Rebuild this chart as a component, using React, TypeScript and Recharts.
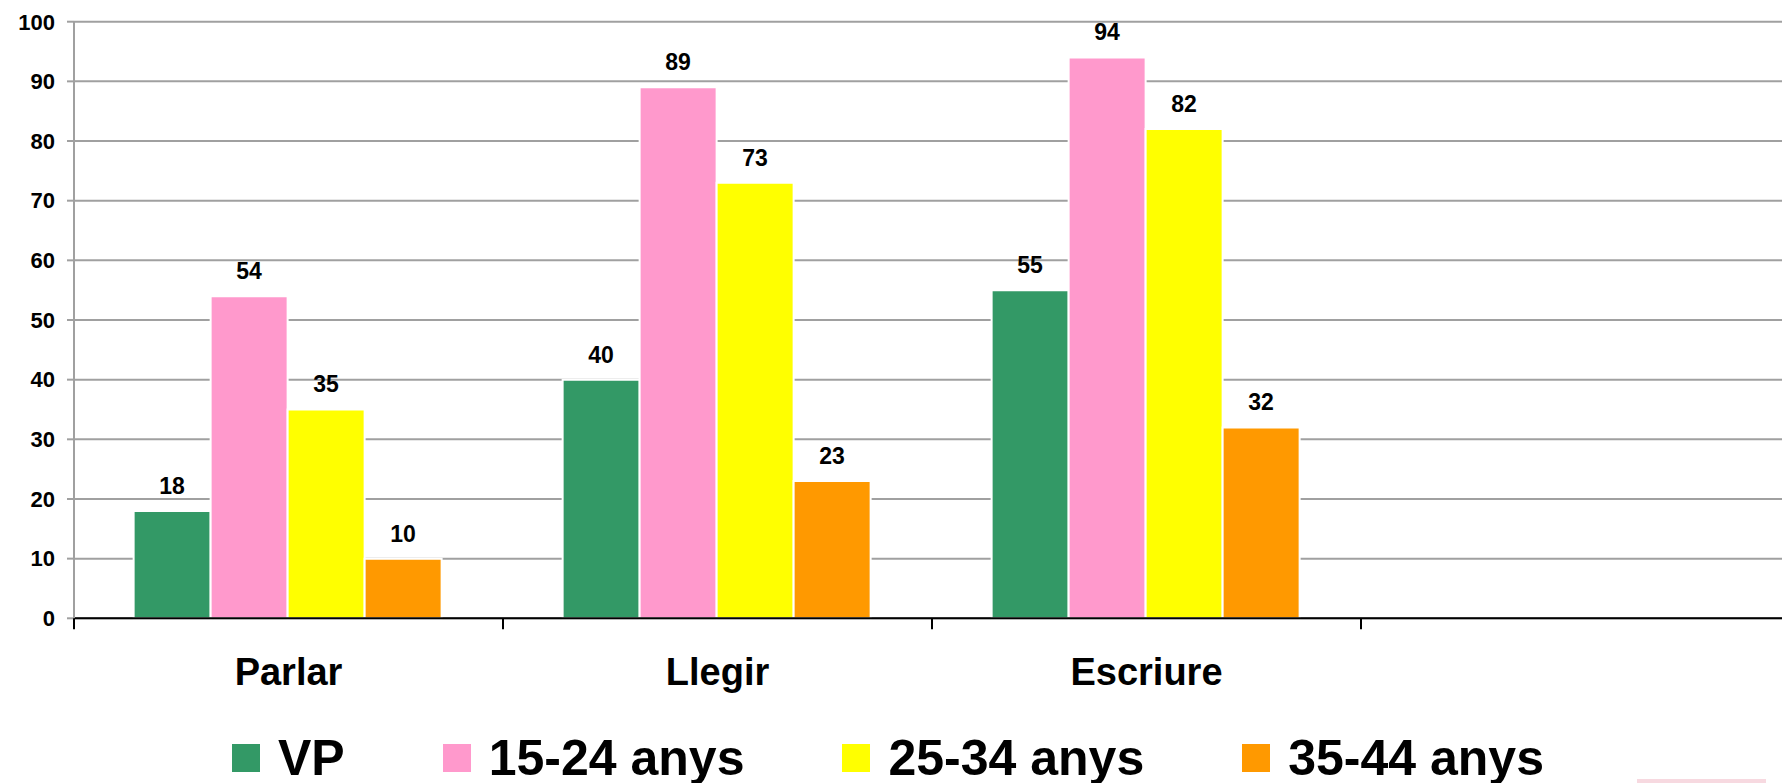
import { Bar, BarChart, CartesianGrid, LabelList, Legend, XAxis, YAxis } from "recharts"

const categories = ["Parlar", "Llegir", "Escriure", ""]
const vp = [18, 40, 55, null]
const anys1524 = [54, 89, 94, null]
const anys2534 = [35, 73, 82, null]
const anys3544 = [10, 23, 32, null]
const yTicks = [0, 10, 20, 30, 40, 50, 60, 70, 80, 90, 100]

const seriesNames = ["VP", "15-24 anys", "25-34 anys", "35-44 anys"]
const seriesColors = ["#339966", "#ff99cc", "#ffff00", "#ff9900"]

const data = categories.map((name, i) => ({
  name,
  vp: vp[i],
  a1524: anys1524[i],
  a2534: anys2534[i],
  a3544: anys3544[i],
}))

const font = "'Liberation Sans', Arial, sans-serif"

function CategoryTick(props: any) {
  const { x, y, payload } = props
  const half = payload.offset ?? 0
  return (
    <g>
      <line x1={x - half} x2={x - half} y1={y} y2={y + 11} stroke="#000" strokeWidth={2} />
      <text x={x} y={y + 66.7} textAnchor="middle" fontSize={38} fontWeight="bold" fontFamily={font} fill="#000">
        {payload.value}
      </text>
    </g>
  )
}

function renderLegend(props: any) {
  // keep the series order, the legend sorts by name otherwise
  const items = [...props.payload].sort(
    (a: any, b: any) => seriesNames.indexOf(a.value) - seriesNames.indexOf(b.value)
  )
  return (
    <div style={{ display: "flex", alignItems: "center", fontFamily: font, whiteSpace: "nowrap" }}>
      {items.map((entry: any, i: number) => (
        <div key={entry.value} style={{ display: "flex", alignItems: "center", marginLeft: i === 0 ? 0 : 98 }}>
          <span style={{ width: 28, height: 28, background: entry.color, marginRight: 18, display: "inline-block" }} />
          <span style={{ fontSize: 50, fontWeight: "bold", lineHeight: "50px", color: "#000" }}>{entry.value}</span>
        </div>
      ))}
    </div>
  )
}

export default function App() {
  const keys = ["vp", "a1524", "a2534", "a3544"]
  return (
    <div style={{ position: "fixed", left: 0, top: 0, width: 1782, height: 783, overflow: "hidden", background: "#fff" }}>
      <BarChart
        width={1790}
        height={783}
        data={data}
        margin={{ top: 21.7, right: 0, bottom: 0, left: 0 }}
        barCategoryGap="13.9%"
        barGap={0}
      >
        <CartesianGrid vertical={false} stroke="#a0a0a0" strokeWidth={2} />
        <XAxis
          dataKey="name"
          height={164.7}
          axisLine={{ stroke: "#000", strokeWidth: 2 }}
          tickLine={false}
          tickSize={0}
          tickMargin={0}
          interval={0}
          tick={<CategoryTick />}
        />
        <YAxis
          width={74}
          domain={[0, 100]}
          ticks={yTicks}
          interval={0}
          axisLine={{ stroke: "#a0a0a0", strokeWidth: 2 }}
          tickLine={{ stroke: "#a0a0a0", strokeWidth: 2 }}
          tickSize={7}
          tickMargin={12}
          tick={{ fill: "#000", fontSize: 22, fontWeight: "bold", fontFamily: font }}
        />
        <Legend
          layout="horizontal"
          align="center"
          verticalAlign="middle"
          wrapperStyle={{ left: 232, top: 733, width: "auto", height: 50 }}
          content={renderLegend}
        />
        {keys.map((k, i) => (
          <Bar
            key={k}
            dataKey={k}
            name={seriesNames[i]}
            fill={seriesColors[i]}
            stroke="#fff"
            strokeWidth={2}
            isAnimationActive={false}
          >
            <LabelList
              dataKey={k}
              position="top"
              offset={17}
              fill="#000"
              fontSize={23}
              fontWeight="bold"
              fontFamily={font}
            />
          </Bar>
        ))}
      </BarChart>
      <div style={{ position: "absolute", left: 1637, top: 779, width: 129, height: 4, background: "#f7d9e0" }} />
    </div>
  )
}
